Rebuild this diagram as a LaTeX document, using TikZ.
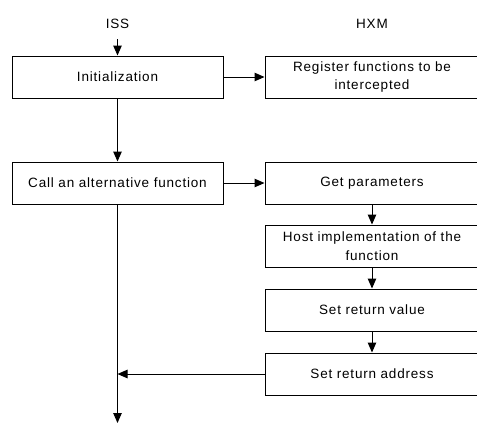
\documentclass[tikz,border=0pt]{standalone}
\usepackage{fontspec}
\setmainfont[LetterSpace=6]{Liberation Sans}
\usetikzlibrary{arrows.meta}
\begin{document}
\begin{tikzpicture}[x=1pt,y=-1pt,
  box/.style={draw,line width=1pt,minimum height=42pt,inner sep=2pt,align=center,font=\fontsize{13.5}{18.5}\selectfont},
  lbox/.style={box,minimum width=211pt},
  rbox/.style={box,minimum width=214pt,text width=200pt},
  lab/.style={font=\fontsize{13.5}{16}\selectfont},
  arr/.style={line width=1pt,-{Triangle[length=10pt,width=8.5pt]}}]
\useasboundingbox (0,0) rectangle (477,424);
\clip (0,0) rectangle (477,424);
\node[lab] (iss) at (117.5,24) {ISS};
\node[lab] (hxm) at (372,24) {HXM};
\node[lbox] (init) at (117.5,77) {Initialization};
\node[lbox] (call) at (117.5,183) {Call an alternative function};
\node[rbox] (reg) at (372,77) {Register functions to be\\intercepted};
\node[rbox] (get) at (372,183) {Get parameters};
\node[rbox] (host) at (372,246) {Host implementation of the\\function};
\node[rbox] (val) at (372,310) {Set return value};
\node[rbox] (addr) at (372,374) {Set return address};
\coordinate (top) at (117.5,39);
\coordinate (bot) at (117.5,423);
\coordinate (join) at (117.5,374);
\draw[arr] (top) -- (init.north);
\draw[arr] (init.south) -- (call.north);
\draw[arr] (call.south) -- (bot);
\draw[arr] (init.east) -- (reg.west);
\draw[arr] (call.east) -- (get.west);
\draw[arr] (get.south) -- (host.north);
\draw[arr] (host.south) -- (val.north);
\draw[arr] (val.south) -- (addr.north);
\draw[arr] (addr.west) -- (join);
\end{tikzpicture}
\end{document}
